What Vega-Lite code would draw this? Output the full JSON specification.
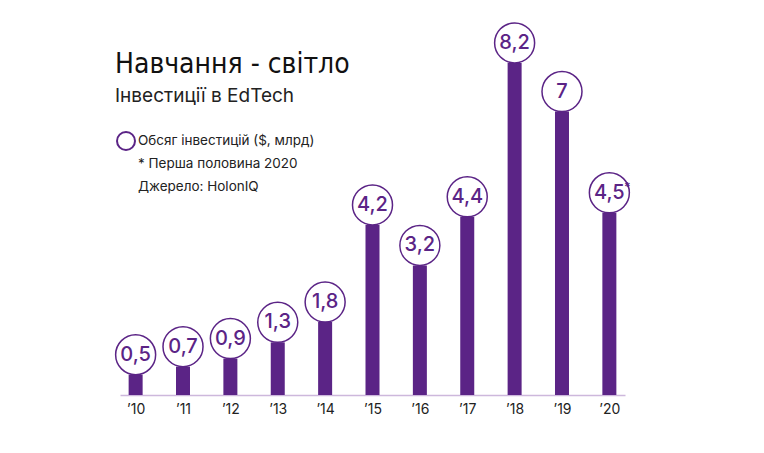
{
  "$schema": "https://vega.github.io/schema/vega-lite/v6.json",
  "width": 505,
  "height": 375,
  "autosize": {"type": "none"},
  "padding": {"left": 120, "top": 20, "right": 139, "bottom": 58},
  "config": {
    "view": {"stroke": null},
    "font": "Inter",
    "locale": {"number": {"decimal": ",", "thousands": " ", "grouping": [3], "currency": ["", ""]}}
  },
  "title": {
    "text": "Навчання - світло",
    "subtitle": "Інвестиції в EdTech",
    "anchor": "start",
    "frame": "group",
    "font": "'DejaVu Sans Condensed', 'Liberation Sans Narrow', Roboto",
    "fontSize": 28,
    "fontWeight": "normal",
    "color": "#111111",
    "subtitleFont": "Inter",
    "subtitleFontSize": 19,
    "subtitleColor": "#222222",
    "subtitlePadding": 8,
    "dx": -5,
    "offset": -86
  },
  "data": {
    "values": [
      {"year": "2010", "value": 0.5, "series": "Обсяг інвестицій ($, млрд)", "note": ""},
      {"year": "2011", "value": 0.7, "series": "Обсяг інвестицій ($, млрд)", "note": ""},
      {"year": "2012", "value": 0.9, "series": "Обсяг інвестицій ($, млрд)", "note": ""},
      {"year": "2013", "value": 1.3, "series": "Обсяг інвестицій ($, млрд)", "note": ""},
      {"year": "2014", "value": 1.8, "series": "Обсяг інвестицій ($, млрд)", "note": ""},
      {"year": "2015", "value": 4.2, "series": "Обсяг інвестицій ($, млрд)", "note": ""},
      {"year": "2016", "value": 3.2, "series": "Обсяг інвестицій ($, млрд)", "note": ""},
      {"year": "2017", "value": 4.4, "series": "Обсяг інвестицій ($, млрд)", "note": ""},
      {"year": "2018", "value": 8.2, "series": "Обсяг інвестицій ($, млрд)", "note": ""},
      {"year": "2019", "value": 7, "series": "Обсяг інвестицій ($, млрд)", "note": ""},
      {"year": "2020", "value": 4.5, "series": "Обсяг інвестицій ($, млрд)", "note": "*"}
    ]
  },
  "encoding": {
    "x": {
      "field": "year",
      "type": "ordinal",
      "scale": {"type": "point", "padding": 0.33},
      "axis": {
        "title": null,
        "labelAngle": 0,
        "ticks": false,
        "domainColor": "#cdb8dc",
        "domainWidth": 1.5,
        "labelFont": "Inter",
        "labelFontSize": 14,
        "labelColor": "#222222",
        "labelPadding": 7,
        "labelExpr": "'’' + slice(datum.label, 2)"
      }
    },
    "y": {
      "field": "value",
      "type": "quantitative",
      "scale": {"domain": [0, 9.26], "nice": false},
      "axis": null
    }
  },
  "layer": [
    {
      "mark": {"type": "bar", "size": 14, "color": "#5b2486"}
    },
    {
      "mark": {"type": "point", "shape": "circle", "filled": true, "fill": "white", "size": 1600, "strokeWidth": 1.5, "yOffset": -20, "opacity": 1},
      "encoding": {
        "stroke": {
          "field": "series",
          "type": "nominal",
          "scale": {
            "domain": ["Обсяг інвестицій ($, млрд)", "* Перша половина 2020", "Джерело: HolonIQ"],
            "range": ["#5b2486", "rgba(0,0,0,0)", "rgba(0,0,0,0)"]
          },
          "legend": {
            "title": null,
            "orient": "none",
            "legendX": -4,
            "legendY": 111,
            "symbolType": "circle",
            "symbolSize": 324,
            "symbolStrokeWidth": 2,
            "symbolFillColor": "white",
            "labelFont": "Inter",
            "labelFontSize": 13.5,
            "labelColor": "#222222",
            "labelOffset": 2,
            "labelLimit": 400,
            "rowPadding": -3
          }
        }
      }
    },
    {
      "mark": {"type": "text", "fontSize": 20, "fontWeight": 500, "color": "#5b2486", "yOffset": -20, "baseline": "middle", "align": "center"},
      "encoding": {"text": {"field": "value", "type": "quantitative", "format": "~g"}}
    },
    {
      "transform": [{"filter": "datum.note != ''"}],
      "mark": {"type": "text", "fontSize": 12, "fontWeight": "bold", "color": "#5b2486", "yOffset": -26, "dx": 18, "baseline": "middle", "align": "center"},
      "encoding": {"text": {"field": "note", "type": "nominal"}}
    }
  ]
}
